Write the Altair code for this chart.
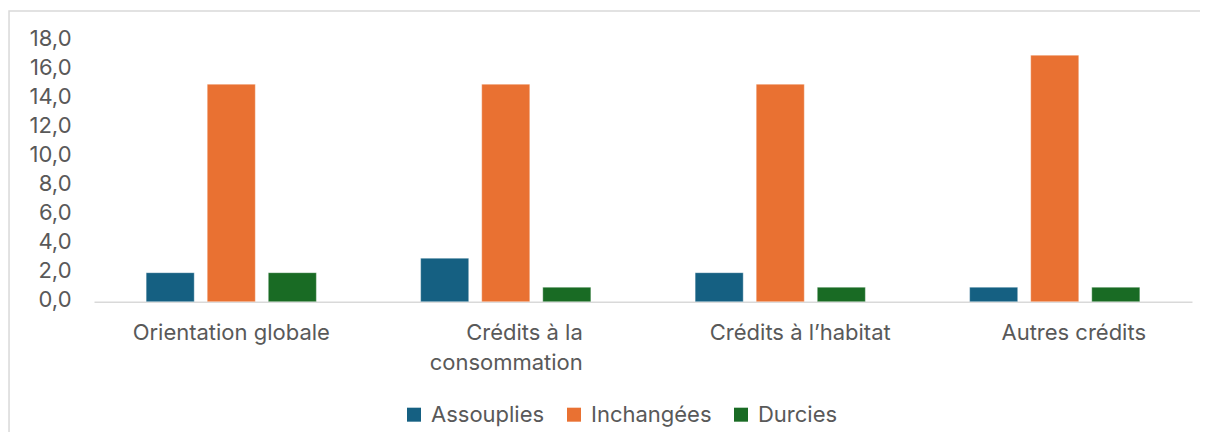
import altair as alt
import pandas as pd

categories = ["Orientation globale", "Crédits à la consommation", "Crédits à l’habitat", "Autres crédits"]
# display labels ("|" = line break)
tick_labels = ["Orientation globale", "Crédits à la|consommation", "Crédits à l’habitat", "Autres crédits"]
series = ["Assouplies", "Inchangées", "Durcies"]
assouplies = [2, 3, 2, 1]
inchangees = [15, 15, 15, 17]
durcies = [2, 1, 1, 1]
colors = ["#156082", "#E97132", "#196B24"]
y_ticks = [0, 2, 4, 6, 8, 10, 12, 14, 16, 18]

rows = []
for i, c in enumerate(categories):
    for s, vals in zip(series, [assouplies, inchangees, durcies]):
        rows.append({"cat": c, "serie": s, "val": vals[i]})
df = pd.DataFrame(rows)

FONT = "Inter"
FS = 22
TXT = "#595959"
W, H = 1098, 261

label_map = "{" + ",".join(f"'{c}':'{l}'" for c, l in zip(categories, tick_labels)) + "}"

# label placement quirks of the source (labels shifted right of the band centre)
label_offset = {
    "condition": [
        {"test": f"datum.value == '{categories[1]}'", "value": 77},
        {"test": f"datum.value == '{categories[2]}'", "value": 20},
        {"test": f"datum.value == '{categories[3]}'", "value": 19},
    ],
    "value": 0,
}
label_align = {"condition": {"test": f"datum.value == '{categories[1]}'", "value": "right"}, "value": "center"}

bars = alt.Chart(df).mark_bar(stroke="white", strokeWidth=0.6, strokeOpacity=0.6).encode(
    x=alt.X("cat:N", sort=categories, title=None,
            scale=alt.Scale(paddingInner=0.38, paddingOuter=0.19),
            axis=alt.Axis(labelAngle=0, ticks=False, domainColor="#d9d9d9", domainWidth=1.5,
                          labelFont=FONT, labelFontSize=FS, labelColor=TXT, labelPadding=21,
                          labelLineHeight=30, labelLimit=400,
                          labelOffset=label_offset, labelAlign=label_align,
                          labelExpr="split(" + label_map + "[datum.label], '|')")),
    xOffset=alt.XOffset("serie:N", sort=series,
                        scale=alt.Scale(paddingInner=0.213, paddingOuter=0)),
    y=alt.Y("val:Q", title=None,
            scale=alt.Scale(domain=[0, 18], nice=False),
            axis=alt.Axis(values=y_ticks, grid=False, ticks=False, domain=False,
                          labelFont=FONT, labelFontSize=FS, labelColor=TXT, labelPadding=23,
                          labelOffset=-2,
                          labelExpr="replace(format(datum.value, '.1f'), '.', ',')")),
    color=alt.Color("serie:N", sort=series, title=None,
                    scale=alt.Scale(domain=series, range=colors),
                    legend=alt.Legend(orient="none", direction="horizontal", legendX=309, legendY=363,
                                      symbolType="square", symbolSize=196, symbolStrokeWidth=0,
                                      labelFont=FONT, labelFontSize=FS, labelColor=TXT,
                                      labelOffset=6, columnPadding=18, padding=0)),
)

border = alt.Chart(pd.DataFrame({"a": [0]})).mark_rect(
    fill=None, stroke="#d9d9d9", strokeWidth=1.5, clip=False
).encode(x=alt.value(-85), x2=alt.value(W + 60), y=alt.value(-29.7), y2=alt.value(H + 200))

chart = alt.layer(border, bars).properties(
    width=W, height=H,
    padding={"left": 86, "top": 32.7, "right": 8, "bottom": 130},
    autosize=alt.AutoSizeParams(type="none"),
).configure_view(stroke=None)

chart.save("out.html", embed_options={"renderer": "svg", "actions": False})
